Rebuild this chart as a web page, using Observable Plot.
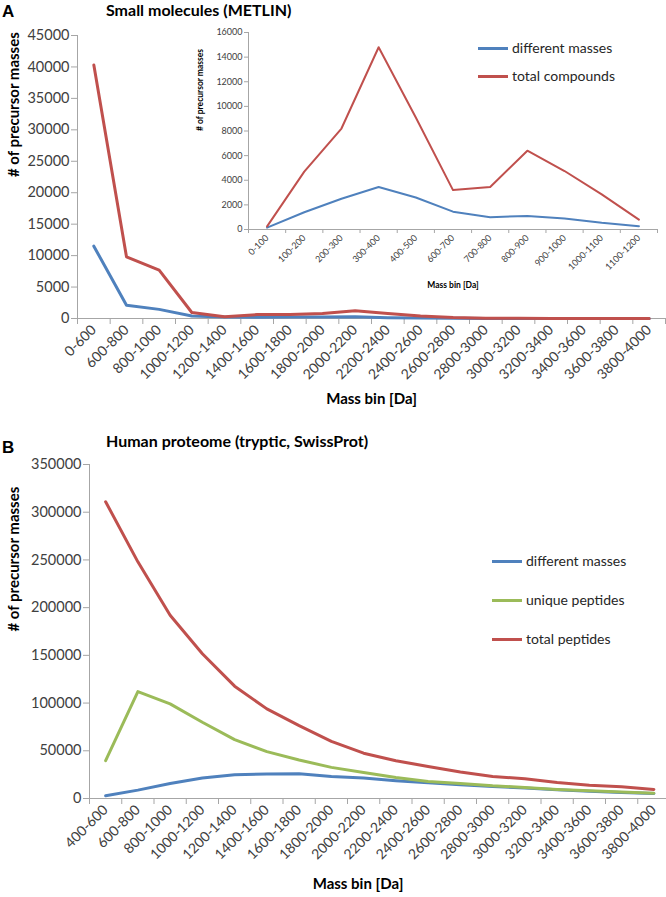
<!DOCTYPE html>
<html><head><meta charset="utf-8">
<script src="https://cdn.jsdelivr.net/npm/d3@7"></script>
<script src="https://cdn.jsdelivr.net/npm/@observablehq/plot@0.6"></script>
<style>
body{margin:0;background:#fff;overflow:hidden;font-family:Lato,sans-serif;}
#root{position:relative;width:666px;height:897px;overflow:hidden;background:#fff;}
#root svg{position:absolute;}
.t{position:absolute;white-space:nowrap;transform:translateY(-50%);line-height:1;}
.panel{font-family:"Liberation Sans",Arial,sans-serif;font-weight:bold;font-size:17px;color:#000;}
.title{font-weight:bold;font-size:16px;color:#000;}
.leg{font-size:14px;color:#262626;display:flex;align-items:center;}
.leg .sw{display:inline-block;width:30px;height:3px;margin-right:4px;}
</style></head>
<body><div id="root"></div>
<script>
// ---- data ----
const catsA = ["0-600","600-800","800-1000","1000-1200","1200-1400","1400-1600","1600-1800","1800-2000","2000-2200","2200-2400","2400-2600","2600-2800","2800-3000","3000-3200","3200-3400","3400-3600","3600-3800","3800-4000"];
const metlinDifferent = [11500, 2100, 1450, 400, 230, 200, 220, 240, 260, 120, 60, 20, 5, 0, 0, 0, 0, 0];
const metlinTotal = [40300, 9800, 7700, 950, 280, 620, 640, 780, 1250, 800, 380, 150, 50, 20, 10, 5, 5, 5];

const catsInset = ["0-100","100-200","200-300","300-400","400-500","600-700","700-800","800-900","900-1000","1000-1100","1100-1200"];
const insetDifferent = [150, 1400, 2500, 3450, 2600, 1450, 1000, 1100, 900, 550, 270];
const insetTotal = [250, 4700, 8200, 14800, 9100, 3200, 3450, 6400, 4750, 2850, 800];

const catsB = ["400-600","600-800","800-1000","1000-1200","1200-1400","1400-1600","1600-1800","1800-2000","2000-2200","2200-2400","2400-2600","2600-2800","2800-3000","3000-3200","3200-3400","3400-3600","3600-3800","3800-4000"];
const protDifferent = [2800, 8800, 15800, 21400, 24900, 25600, 25900, 23100, 21400, 18600, 16500, 14400, 12600, 10900, 9100, 7700, 6300, 5300];
const protUnique = [39600, 112000, 99200, 79900, 61700, 49100, 40300, 32600, 27300, 22100, 17900, 15800, 13300, 11600, 9500, 8100, 6700, 5600];
const protTotal = [311000, 248000, 192000, 151700, 117700, 93900, 76400, 59900, 47500, 39600, 33600, 27800, 23100, 20700, 16800, 14000, 12300, 9500];

const yTicksA = d3.range(0, 45001, 5000);
const yTicksInset = d3.range(0, 16001, 2000);
const yTicksB = d3.range(0, 350001, 50000);

const BLUE = "#4f81bd", RED = "#c0504d", GREEN = "#9bbb59";
const AXIS = "#a6a6a6", TXT = "#404040";

function chart(o) {
  const n = o.cats.length;
  const centers = d3.range(n).map(i => i + 0.5);
  const bounds = d3.range(n + 1);
  return Plot.plot({
    width: o.width, height: o.height,
    marginTop: o.mt, marginBottom: o.mb, marginLeft: o.ml, marginRight: o.mr,
    style: {fontFamily: "Lato, sans-serif", fontSize: o.fs + "px", background: "transparent", overflow: "visible", color: TXT},
    x: {type: "linear", domain: [0, n], range: o.xRange},
    y: {domain: [0, o.yTicks[o.yTicks.length - 1]]},
    marks: [
      Plot.axisY(o.yTicks, {tickSize: o.tick, tickFormat: () => "", stroke: AXIS, label: null}),
      Plot.axisY(o.yTicks, {tickSize: 0, tickPadding: o.yPad, tickFormat: d3.format("d"), fill: TXT, label: null, fontSize: o.fs}),
      Plot.axisX(bounds, {tickSize: o.tick, tickFormat: () => "", stroke: AXIS, label: null}),
      Plot.axisX(centers, {tickSize: 0, tickPadding: o.xPad, tickRotate: -45, tickFormat: i => o.cats[Math.floor(i)], fill: TXT, label: null, fontSize: o.xfs || o.fs}),
      Plot.ruleX([0], {stroke: AXIS}),
      Plot.ruleY([0], {stroke: AXIS}),
      ...o.series.map(s => Plot.line(s.values, {x: (d, i) => i + 0.5, y: d => d, stroke: s.color, strokeWidth: o.lw, strokeLinejoin: "round"})),
      Plot.text([o.yTitle], {frameAnchor: "left", rotate: -90, dx: o.yTitleDx, fontWeight: "bold", fontSize: o.titleFs, fill: "#000"}),
      Plot.text([o.xTitle], {frameAnchor: "bottom", dy: o.xTitleDy, dx: o.xTitleDx || 0, fontWeight: "bold", fontSize: o.titleFs, fill: "#000"})
    ]
  });
}

const root = document.getElementById("root");

function place(el, left, top) { el.style.left = left + "px"; el.style.top = top + "px"; root.appendChild(el); }
function text(cls, str, left, cy) {
  const d = document.createElement("div"); d.className = "t " + cls; d.textContent = str; place(d, left, cy); return d;
}
function legend(label, color, left, cy) {
  const d = document.createElement("div"); d.className = "t leg";
  const sw = document.createElement("span"); sw.className = "sw"; sw.style.background = color;
  d.appendChild(sw); d.appendChild(document.createTextNode(label));
  place(d, left, cy);
}

// Panel A main
place(chart({
  cats: catsA, yTicks: yTicksA, width: 666, height: 420, mt: 35, mb: 102, ml: 77, mr: 1, xRange: [77, 665],
  fs: 14.5, xfs: 14, tick: 6, yPad: 8, xPad: 9, lw: 3, titleFs: 15,
  yTitle: "# of precursor masses", yTitleDx: -63, xTitle: "Mass bin [Da]", xTitleDy: 85,
  series: [{values: metlinDifferent, color: BLUE}, {values: metlinTotal, color: RED}]
}), 0, 0);

// Panel A inset
place(chart({
  cats: catsInset, yTicks: yTicksInset, width: 486, height: 280, mt: 12, mb: 71, ml: 68, mr: 9, xRange: [68, 477],
  fs: 9, tick: 4, yPad: 6, xPad: 7, lw: 2, titleFs: 8.5,
  yTitle: "# of precursor masses", yTitleDx: -48, xTitle: "Mass bin [Da]", xTitleDy: 58,
  series: [{values: insetDifferent, color: BLUE}, {values: insetTotal, color: RED}]
}), 180, 20);

// Panel B
place(chart({
  cats: catsB, yTicks: yTicksB, width: 666, height: 477, mt: 44, mb: 99, ml: 89, mr: 0, xRange: [89, 669.5],
  fs: 14.5, xfs: 14, tick: 6, yPad: 8, xPad: 9, lw: 3, titleFs: 15,
  yTitle: "# of precursor masses", yTitleDx: -75, xTitle: "Mass bin [Da]", xTitleDy: 90, xTitleDx: -20,
  series: [{values: protDifferent, color: BLUE}, {values: protUnique, color: GREEN}, {values: protTotal, color: RED}]
}), 0, 420);

// Texts
text("panel", "A", 2, 11);
text("title", "Small molecules (METLIN)", 106, 10);
text("panel", "B", 2, 447);
text("title", "Human proteome (tryptic, SwissProt)", 106, 441);

legend("different masses", BLUE, 478, 48);
legend("total compounds", RED, 478, 76);
legend("different masses", BLUE, 492, 561);
legend("unique peptides", GREEN, 492, 600);
legend("total peptides", RED, 492, 639);
</script>
</body></html>
